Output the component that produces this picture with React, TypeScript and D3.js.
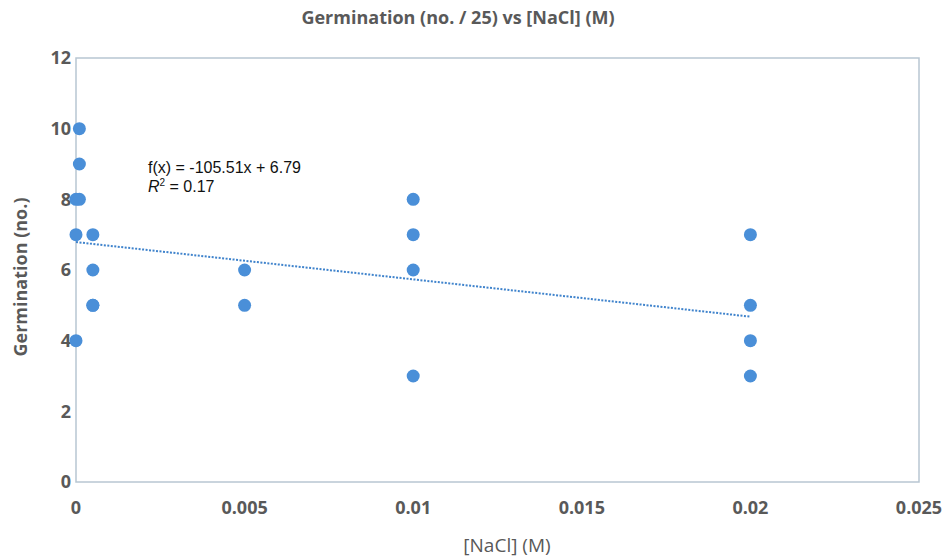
import React from 'react';
import * as d3 from 'd3';

// NaCl concentration (M) and germination count (no. / 25)
const concentrations = [0, 0, 0, 0.0001, 0.0001, 0.0001, 0.0005, 0.0005, 0.0005, 0.0005, 0.005, 0.005, 0.01, 0.01, 0.01, 0.01, 0.02, 0.02, 0.02, 0.02];
const germination = [8, 7, 4, 10, 9, 8, 7, 6, 5, 5, 6, 5, 8, 7, 6, 3, 7, 5, 4, 3];

const xTicks = [0, 0.005, 0.01, 0.015, 0.02, 0.025];
const yTicks = [0, 2, 4, 6, 8, 10, 12];

// trend line as printed on the chart
const slope = -105.51;
const intercept = 6.79;
const rSquared = 0.17;

const width = 948;
const height = 560;
const margin = { top: 58, right: 29, bottom: 78, left: 76 };

const App = () => {
    const x = d3.scaleLinear().domain([0, 0.025]).range([margin.left, width - margin.right]);
    const y = d3.scaleLinear().domain([0, 12]).range([height - margin.bottom, margin.top]);

    const xMin = d3.min(concentrations) ?? 0;
    const xMax = d3.max(concentrations) ?? 0;
    const trend = d3.line<number>()
        .x(d => x(d))
        .y(d => y(slope * d + intercept));

    const labelFont = "'Open Sans', 'DejaVu Sans', sans-serif";

    return (
        <svg width={width} height={height} style={{ position: 'absolute', left: 0, top: 0, background: '#fff' }}>
            <text x={458} y={24} textAnchor="middle" fontFamily={labelFont} fontWeight="bold" fontSize={18} fill="#595959">
                Germination (no. / 25) vs [NaCl] (M)
            </text>

            <rect x={x(0)} y={y(12)} width={x(0.025) - x(0)} height={y(0) - y(12)}
                fill="none" stroke="#b8c6d2" strokeWidth={1.5} />

            {yTicks.map(t => (
                <text key={`y${t}`} x={x(0) - 5} y={y(t)} dy="0.35em" textAnchor="end"
                    fontFamily={labelFont} fontWeight="bold" fontSize={18} fill="#595959">{t}</text>
            ))}
            {xTicks.map(t => (
                <text key={`x${t}`} x={x(t)} y={y(0) + 32} textAnchor="middle"
                    fontFamily={labelFont} fontWeight="bold" fontSize={18} fill="#595959">{t}</text>
            ))}

            <text x={507} y={552} textAnchor="middle" fontFamily={labelFont} fontSize={19} fill="#595959">[NaCl] (M)</text>
            <text transform={`translate(27,277) rotate(-90)`} textAnchor="middle"
                fontFamily={labelFont} fontWeight="bold" fontSize={18} fill="#595959">Germination (no.)</text>

            <path d={trend([xMin, xMax]) ?? ''} fill="none" stroke="#3f83cc" strokeWidth={2} strokeDasharray="2,1.5" />

            {concentrations.map((c, i) => (
                <circle key={i} cx={x(c)} cy={y(germination[i])} r={6.5} fill="#4a8fd8" />
            ))}

            <g fontFamily="'Liberation Sans', Arial, sans-serif" fontSize={16} fill="#111">
                <text x={148} y={173}>f(x) = {slope}x + {intercept}</text>
                <text x={148} y={192}>
                    <tspan fontStyle="italic">R</tspan>
                    <tspan fontSize={10} dy={-6}>2</tspan>
                    <tspan dy={6}> = {rSquared}</tspan>
                </text>
            </g>
        </svg>
    );
};

export default App;
